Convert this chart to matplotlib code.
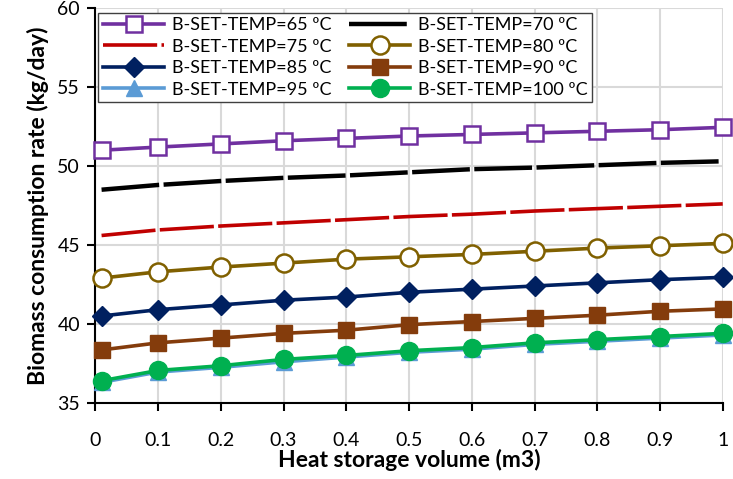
import numpy as np
import matplotlib.pyplot as plt

plt.rcParams['font.family'] = ['Lato', 'DejaVu Sans']

volume = [0.01, 0.1, 0.2, 0.3, 0.4, 0.5, 0.6, 0.7, 0.8, 0.9, 1.0]

temp_65 = [51.0, 51.2, 51.4, 51.6, 51.75, 51.9, 52.0, 52.1, 52.2, 52.3, 52.45]
temp_70 = [48.5, 48.8, 49.05, 49.25, 49.4, 49.6, 49.8, 49.9, 50.05, 50.2, 50.3]
temp_75 = [45.6, 45.95, 46.2, 46.4, 46.6, 46.8, 46.95, 47.15, 47.3, 47.45, 47.6]
temp_80 = [42.9, 43.3, 43.6, 43.85, 44.1, 44.25, 44.4, 44.6, 44.8, 44.95, 45.1]
temp_85 = [40.5, 40.9, 41.2, 41.5, 41.7, 42.0, 42.2, 42.4, 42.6, 42.8, 42.95]
temp_90 = [38.35, 38.8, 39.1, 39.4, 39.6, 39.95, 40.15, 40.35, 40.55, 40.8, 40.95]
temp_95 = [36.3, 36.95, 37.25, 37.6, 37.9, 38.2, 38.4, 38.7, 38.9, 39.1, 39.3]
temp_100 = [36.4, 37.05, 37.35, 37.75, 38.0, 38.3, 38.5, 38.8, 39.0, 39.2, 39.4]

labels = ['B-SET-TEMP=65 ºC', 'B-SET-TEMP=70 ºC', 'B-SET-TEMP=75 ºC',
          'B-SET-TEMP=80 ºC', 'B-SET-TEMP=85 ºC', 'B-SET-TEMP=90 ºC',
          'B-SET-TEMP=95 ºC', 'B-SET-TEMP=100 ºC']

fig = plt.figure(figsize=(7.33, 4.79), dpi=100)
ax = fig.add_axes([0.130, 0.159, 0.856, 0.824])

lw = 2.6
h65, = ax.plot(volume, temp_65, color='#7030A0', lw=lw, marker='s', ms=12,
               mfc='white', mec='#7030A0', mew=1.8, clip_on=False, zorder=3)
h70, = ax.plot(volume, temp_70, color='black', lw=3.2, dashes=(13, 1.0), zorder=3)
h75, = ax.plot(volume, temp_75, color='#C00000', lw=2.6, dashes=(15, 1.2), zorder=3)
h80, = ax.plot(volume, temp_80, color='#806000', lw=lw, marker='o', ms=13,
               mfc='white', mec='#806000', mew=1.8, clip_on=False, zorder=3)
h85, = ax.plot(volume, temp_85, color='#002060', lw=lw, marker='D', ms=10,
               clip_on=False, zorder=3)
h90, = ax.plot(volume, temp_90, color='#843C0C', lw=lw, marker='s', ms=12,
               clip_on=False, zorder=3)
h95, = ax.plot(volume, temp_95, color='#5B9BD5', lw=lw, marker='^', ms=12,
               clip_on=False, zorder=3)
h100, = ax.plot(volume, temp_100, color='#00B050', lw=lw, marker='o', ms=13,
                clip_on=False, zorder=3)

ax.set_xlim(0, 1)
ax.set_ylim(35, 60)
ax.set_xticks(np.arange(0, 1.01, 0.1))
ax.set_xticklabels(['0', '0.1', '0.2', '0.3', '0.4', '0.5', '0.6', '0.7',
                    '0.8', '0.9', '1'])
ax.set_yticks(np.arange(35, 61, 5))

ax.grid(True, color='#D9D9D9', lw=1.5)
ax.set_axisbelow(True)
for side in ['top', 'right']:
    ax.spines[side].set_visible(False)
for side in ['left', 'bottom']:
    ax.spines[side].set_linewidth(1.5)

ax.tick_params(axis='x', direction='out', length=6, width=1.5, pad=15, labelsize=14)
ax.tick_params(axis='y', direction='out', length=6, width=1.5, pad=5, labelsize=14)

ax.set_xlabel('Heat storage volume (m3)', fontsize=16.5, fontweight='bold', labelpad=0)
ax.set_ylabel('Biomass consumption rate (kg/day)', fontsize=16.5, fontweight='bold',
              labelpad=6)

# row-wise order: left column 65/75/85/95, right column 70/80/90/100
order = [(h65, 0), (h75, 2), (h85, 4), (h95, 6), (h70, 1), (h80, 3), (h90, 5), (h100, 7)]
leg = ax.legend([h for h, _ in order], [labels[i] for _, i in order],
                loc='upper left', bbox_to_anchor=(0.005, 0.988), ncol=2,
                fontsize=13, frameon=True, fancybox=False, edgecolor='#404040',
                framealpha=1, handlelength=3.4, handletextpad=0.4,
                columnspacing=1.0, labelspacing=0.3, borderpad=0.25,
                borderaxespad=0)
leg.get_frame().set_linewidth(1.0)

fig.savefig('out.png', dpi=100)
